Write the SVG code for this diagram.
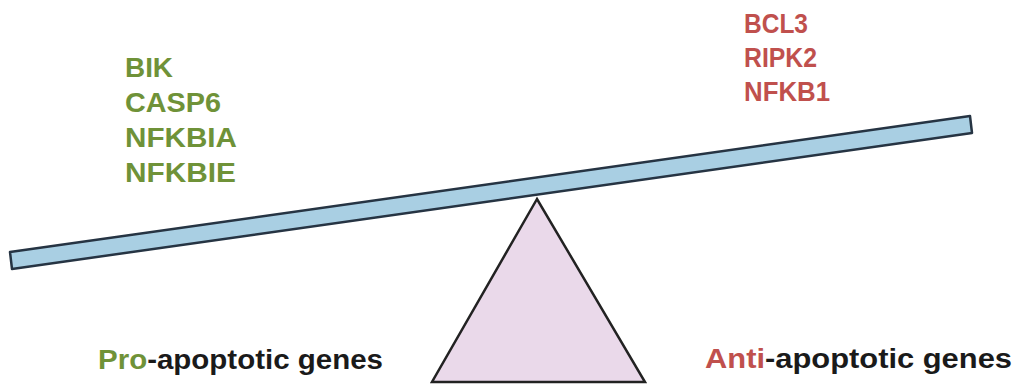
<svg xmlns="http://www.w3.org/2000/svg" width="1016" height="386" viewBox="0 0 1016 386">
<style>
text{font-family:"Liberation Sans",Arial,sans-serif;font-weight:bold;font-size:27px}
.g{fill:#6f9238}
.r{fill:#c0504d}
.k{fill:#1a1a1a}
</style>
<rect width="1016" height="386" fill="#ffffff"/>
<g id="fulcrum">
<polygon points="537,199 432,382 645,382" fill="#ead9ea" stroke="#222222" stroke-width="2.5" stroke-linejoin="miter"/>
</g>
<g id="beam">
<polygon points="10,252 970,116 972,133 12,269" fill="#a9cfe3" stroke="#263443" stroke-width="2.5" stroke-linejoin="round"/>
</g>
<g id="pro-genes">
<text class="g" x="125" y="77" textLength="48" lengthAdjust="spacingAndGlyphs">BIK</text>
<text class="g" x="125" y="112" textLength="96" lengthAdjust="spacingAndGlyphs">CASP6</text>
<text class="g" x="125" y="147" textLength="112" lengthAdjust="spacingAndGlyphs">NFKBIA</text>
<text class="g" x="125" y="182" textLength="111" lengthAdjust="spacingAndGlyphs">NFKBIE</text>
</g>
<g id="anti-genes">
<text class="r" x="744" y="33" textLength="64" lengthAdjust="spacingAndGlyphs">BCL3</text>
<text class="r" x="744" y="67" textLength="73" lengthAdjust="spacingAndGlyphs">RIPK2</text>
<text class="r" x="744" y="101" textLength="86" lengthAdjust="spacingAndGlyphs">NFKB1</text>
</g>
<g id="pro-label">
<text x="98" y="369" textLength="285" lengthAdjust="spacingAndGlyphs"><tspan class="g">Pro</tspan><tspan class="k">-apoptotic genes</tspan></text>
</g>
<g id="anti-label">
<text x="705" y="368" textLength="307" lengthAdjust="spacingAndGlyphs"><tspan class="r">Anti</tspan><tspan class="k">-apoptotic genes</tspan></text>
</g>
</svg>
